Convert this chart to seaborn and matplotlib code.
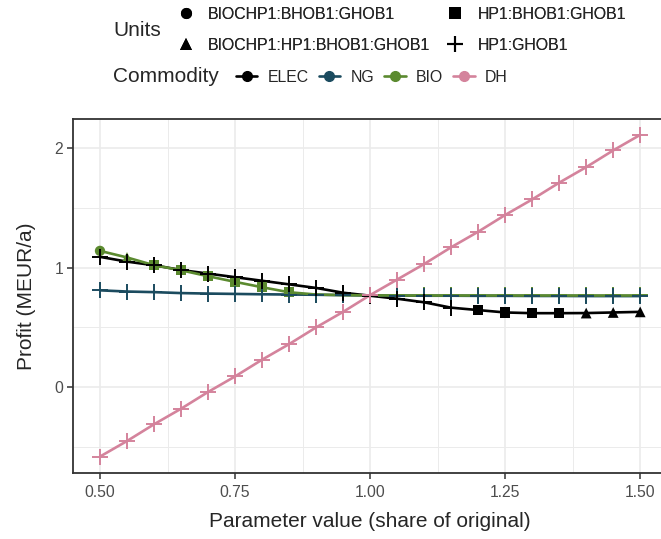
import pandas as pd
import matplotlib
matplotlib.use("Agg")
import matplotlib.pyplot as plt
from matplotlib.lines import Line2D
from matplotlib.ticker import MultipleLocator
import seaborn as sns

# parameter values (share of original)
x_vals = [0.50, 0.55, 0.60, 0.65, 0.70, 0.75, 0.80, 0.85, 0.90, 0.95, 1.00,
          1.05, 1.10, 1.15, 1.20, 1.25, 1.30, 1.35, 1.40, 1.45, 1.50]

elec = [1.09, 1.05, 1.02, 0.98, 0.95, 0.92, 0.89, 0.86, 0.83, 0.79, 0.765,
        0.74, 0.71, 0.665, 0.645, 0.625, 0.619, 0.619, 0.62, 0.625, 0.63]
ng = [0.81, 0.80, 0.795, 0.787, 0.783, 0.78, 0.777, 0.775, 0.773, 0.77, 0.767,
      0.766, 0.765, 0.765, 0.764, 0.764, 0.763, 0.763, 0.762, 0.762, 0.762]
bio = [1.14, 1.085, 1.02, 0.978, 0.928, 0.881, 0.836, 0.794, 0.775, 0.77, 0.768,
       0.767, 0.767, 0.767, 0.767, 0.767, 0.767, 0.767, 0.767, 0.767, 0.767]
dh = [-0.58, -0.45, -0.31, -0.18, -0.04, 0.09, 0.23, 0.36, 0.50, 0.63, 0.77,
      0.90, 1.03, 1.17, 1.30, 1.44, 1.57, 1.71, 1.84, 1.98, 2.11]

U_C = "BIOCHP1:BHOB1:GHOB1"
U_T = "BIOCHP1:HP1:BHOB1:GHOB1"
U_S = "HP1:BHOB1:GHOB1"
U_P = "HP1:GHOB1"

elec_units = [U_P] * 14 + [U_S] * 4 + [U_T] * 3
ng_units = [U_P] * 21
bio_units = [U_C, U_T] + [U_S] * 6 + [U_P] * 13
dh_units = [U_P] * 21

commodities = ["ELEC", "NG", "BIO", "DH"]
colors = {"ELEC": "#000000", "NG": "#1b4b5f", "BIO": "#5b8a2f", "DH": "#d4839c"}
unit_order = [U_C, U_T, U_S, U_P]
unit_markers = {U_C: "o", U_T: "^", U_S: "s", U_P: "+"}
unit_sizes = {U_C: 55, U_T: 60, U_S: 55, U_P: 130}

frames = []
for name, vals, units in [("ELEC", elec, elec_units), ("NG", ng, ng_units),
                          ("BIO", bio, bio_units), ("DH", dh, dh_units)]:
    frames.append(pd.DataFrame({"x": x_vals, "profit": vals,
                                "Commodity": name, "Units": units}))
df = pd.concat(frames, ignore_index=True)

sns.set_theme(style="white")
plt.rcParams["font.family"] = ["Liberation Sans", "DejaVu Sans"]

fig = plt.figure(figsize=(6.61, 5.39), dpi=100)
ax = fig.add_axes([0.1104, 0.1224, 0.899, 0.6568])

sns.lineplot(data=df, x="x", y="profit", hue="Commodity", hue_order=commodities,
             palette=colors, linewidth=1.9, legend=False, ax=ax, zorder=2)

for name in ["BIO", "NG", "ELEC", "DH"]:
    sub = df[df["Commodity"] == name]
    for u in unit_order:
        part = sub[sub["Units"] == u]
        if part.empty:
            continue
        if unit_markers[u] == "+":
            sns.scatterplot(data=part, x="x", y="profit", marker="+",
                            s=unit_sizes[u], color=colors[name], linewidth=1.4,
                            legend=False, ax=ax, zorder=3)
        else:
            sns.scatterplot(data=part, x="x", y="profit", marker=unit_markers[u],
                            s=unit_sizes[u], color=colors[name], edgecolor="none",
                            legend=False, ax=ax, zorder=3)

ax.set_xlim(0.45, 1.55)
ax.set_ylim(-0.7175, 2.2425)
ax.set_xticks([0.50, 0.75, 1.00, 1.25, 1.50])
ax.set_xticklabels(["0.50", "0.75", "1.00", "1.25", "1.50"])
ax.set_yticks([0, 1, 2])
ax.xaxis.set_minor_locator(MultipleLocator(0.125))
ax.yaxis.set_minor_locator(MultipleLocator(0.5))
ax.grid(which="major", color="#ebebeb", linewidth=1.2)
ax.grid(which="minor", color="#ebebeb", linewidth=0.7)
ax.set_axisbelow(True)
for sp in ax.spines.values():
    sp.set_color("#333333")
    sp.set_linewidth(1.3)
ax.tick_params(which="major", direction="out", length=4, width=1.1,
               color="#333333", labelcolor="#4d4d4d", labelsize=11.3,
               left=True, bottom=True, pad=3)
ax.tick_params(axis="x", which="major", pad=4.5)
ax.tick_params(which="minor", length=0)
ax.set_xlabel("Parameter value (share of original)", fontsize=15, labelpad=9)
ax.set_ylabel("Profit (MEUR/a)", fontsize=15, labelpad=13.5)

# legends
unit_handles = [Line2D([], [], linestyle="none", marker=unit_markers[u], color="black",
                       markersize=11 if unit_markers[u] == "+" else 8,
                       markeredgewidth=1.5 if unit_markers[u] == "+" else 0)
                for u in unit_order]
leg1 = fig.legend(unit_handles, unit_order, ncol=2, loc="upper left",
                  bbox_to_anchor=(0.2556, 1.004), frameon=False, fontsize=11.4,
                  handlelength=1.0, handletextpad=0.9, columnspacing=1.1,
                  labelspacing=1.03, borderpad=0.05)
fig.add_artist(leg1)

com_handles = [Line2D([], [], color=colors[c], linewidth=1.9, marker="o", markersize=7)
               for c in commodities]
fig.legend(com_handles, commodities, ncol=4, loc="upper left",
           bbox_to_anchor=(0.340, 0.891), frameon=False, fontsize=11.4,
           handlelength=1.35, handletextpad=0.64, columnspacing=0.65, borderpad=0.2)

fig.text(113 / 661, 1 - 30.5 / 539, "Units", fontsize=15, va="center", ha="left")
fig.text(113 / 661, 1 - 76 / 539, "Commodity", fontsize=15, va="center", ha="left")

fig.savefig("out.png", dpi=100)
